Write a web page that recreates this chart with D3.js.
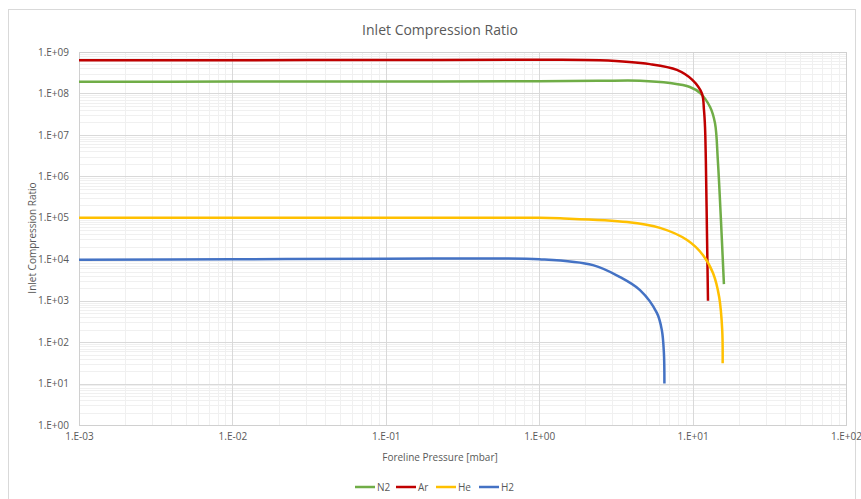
<!DOCTYPE html>
<html><head><meta charset="utf-8">
<script src="https://cdn.jsdelivr.net/npm/d3@7"></script>
<style>body{margin:0;background:#fff;}svg text{font-family:"Open Sans",Calibri,sans-serif;fill:#595959;}</style>
</head><body><svg id="c" width="861" height="499"></svg>
<script>
const xTickValues = [1e-3, 1e-2, 1e-1, 1e0, 1e1, 1e2];
const yTickValues = [1e0, 1e1, 1e2, 1e3, 1e4, 1e5, 1e6, 1e7, 1e8, 1e9];
const seriesNames = ["N2", "Ar", "He", "H2"];
const seriesColors = ["#70ad47", "#c00000", "#ffc000", "#4472c4"];
const n2P = [0.001, 0.01, 0.1, 1, 2.5, 4.54, 7.13, 9.6, 11.2, 13.0, 14.0, 14.6, 15.3, 16.0];
const n2R = [1.92e8, 1.93e8, 1.95e8, 1.97e8, 2.02e8, 2.03e8, 1.78e8, 1.43e8, 1.02e8, 4.7e7, 1.9e7, 2.5e6, 8.9e4, 2.5e3];
const arP = [0.001, 0.01, 0.1, 1, 2.49, 5.27, 7.9, 10.0, 11.5, 11.86, 12.05, 12.2, 12.4, 12.6];
const arR = [6.3e8, 6.35e8, 6.4e8, 6.5e8, 6.3e8, 5.1e8, 3.7e8, 2.1e8, 1.0e8, 4.0e7, 1.55e7, 2.4e6, 5e4, 1.0e3];
const heP = [0.001, 0.01, 0.1, 1, 1.37, 3.73, 6.13, 9.2, 11.7, 13.6, 14.9, 15.6, 15.7];
const heR = [1.0e5, 1.0e5, 1.0e5, 1.0e5, 9.7e4, 7.9e4, 5.7e4, 2.9e4, 1.25e4, 4.6e3, 1.23e3, 195, 31];
const h2P = [0.001, 0.01, 0.1, 0.3, 1, 2.24, 3.37, 4.54, 5.86, 6.3, 6.5, 6.55];
const h2R = [9.7e3, 1.0e4, 1.03e4, 1.04e4, 1.0e4, 7.2e3, 3.7e3, 1.8e3, 500, 195, 55, 10];
const seriesP = [n2P, arP, heP, h2P];
const seriesR = [n2R, arR, heR, h2R];

const svg = d3.select("#c");
const L = 79, R = 846, T = 52, B = 425;
const x = d3.scaleLog().domain([1e-3, 1e2]).range([L, R]);
const y = d3.scaleLog().domain([1e0, 1e9]).range([B, T]);
const fmt = v => { const e = Math.round(Math.log10(v)); return "1.E" + (e >= 0 ? "+" : "-") + String(Math.abs(e)).padStart(2, "0"); };

// outer border
svg.append("rect").attr("x", 8.5).attr("y", 9.5).attr("width", 847).attr("height", 492)
  .attr("fill", "#fff").attr("stroke", "#d9d9d9");

// minor grid
const minorX = [], minorY = [];
for (let e = -3; e < 2; e++) for (let m = 2; m < 10; m++) minorX.push(m * Math.pow(10, e));
for (let e = 0; e < 9; e++) for (let m = 2; m < 10; m++) minorY.push(m * Math.pow(10, e));
const g = svg.append("g");
g.selectAll(".mx").data(minorX).join("line").attr("x1", d => Math.round(x(d)) + 0.5).attr("x2", d => Math.round(x(d)) + 0.5)
  .attr("y1", T).attr("y2", B).attr("stroke", "#f0f0f0");
g.selectAll(".my").data(minorY).join("line").attr("y1", d => Math.round(y(d)) + 0.5).attr("y2", d => Math.round(y(d)) + 0.5)
  .attr("x1", L).attr("x2", R).attr("stroke", "#f0f0f0");
g.selectAll(".Mx").data(xTickValues).join("line").attr("x1", d => Math.round(x(d)) + 0.5).attr("x2", d => Math.round(x(d)) + 0.5)
  .attr("y1", T).attr("y2", B).attr("stroke", "#d9d9d9");
g.selectAll(".My").data(yTickValues).join("line").attr("y1", d => Math.round(y(d)) + 0.5).attr("y2", d => Math.round(y(d)) + 0.5)
  .attr("x1", L).attr("x2", R).attr("stroke", "#d9d9d9");
svg.append("rect").attr("x", L + 0.5).attr("y", T + 0.5).attr("width", R - L).attr("height", B - T)
  .attr("fill", "none").attr("stroke", "#d0d0d0");

// axes labels
const xa = svg.append("g").attr("transform", `translate(0,${B})`)
  .call(d3.axisBottom(x).tickValues(xTickValues).tickFormat(fmt).tickSize(0).tickPadding(8));
xa.select(".domain").remove();
xa.selectAll("text").attr("font-size", 10).attr("fill", "#595959");
const ya = svg.append("g").attr("transform", `translate(${L},0)`)
  .call(d3.axisLeft(y).tickValues(yTickValues).tickFormat(fmt).tickSize(0).tickPadding(10));
ya.select(".domain").remove();
ya.selectAll("text").attr("font-size", 10).attr("fill", "#595959");

// titles
svg.append("text").attr("x", 440).attr("y", 35).attr("text-anchor", "middle").attr("font-size", 14).text("Inlet Compression Ratio");
svg.append("text").attr("x", 440).attr("y", 461).attr("text-anchor", "middle").attr("font-size", 10).text("Foreline Pressure [mbar]");
svg.append("text").attr("transform", "translate(36,238) rotate(-90)").attr("text-anchor", "middle").attr("font-size", 10).text("Inlet Compression Ratio");

// lines
const line = d3.line().x(d => x(d[0])).y(d => y(d[1])).curve(d3.curveCatmullRom.alpha(0.5));
seriesNames.forEach((n, i) => {
  const data = seriesP[i].map((p, j) => [p, seriesR[i][j]]);
  svg.append("path").datum(data).attr("d", line).attr("fill", "none")
    .attr("stroke", seriesColors[i]).attr("stroke-width", 2.5);
});

// legend
const lg = svg.append("g");
const lx = [355, 396, 436, 479];
seriesNames.forEach((n, i) => {
  lg.append("line").attr("x1", lx[i]).attr("x2", lx[i] + 20).attr("y1", 487).attr("y2", 487)
    .attr("stroke", seriesColors[i]).attr("stroke-width", 2.5);
  lg.append("text").attr("x", lx[i] + 22).attr("y", 490.5).attr("font-size", 10).text(n);
});
</script></body></html>
